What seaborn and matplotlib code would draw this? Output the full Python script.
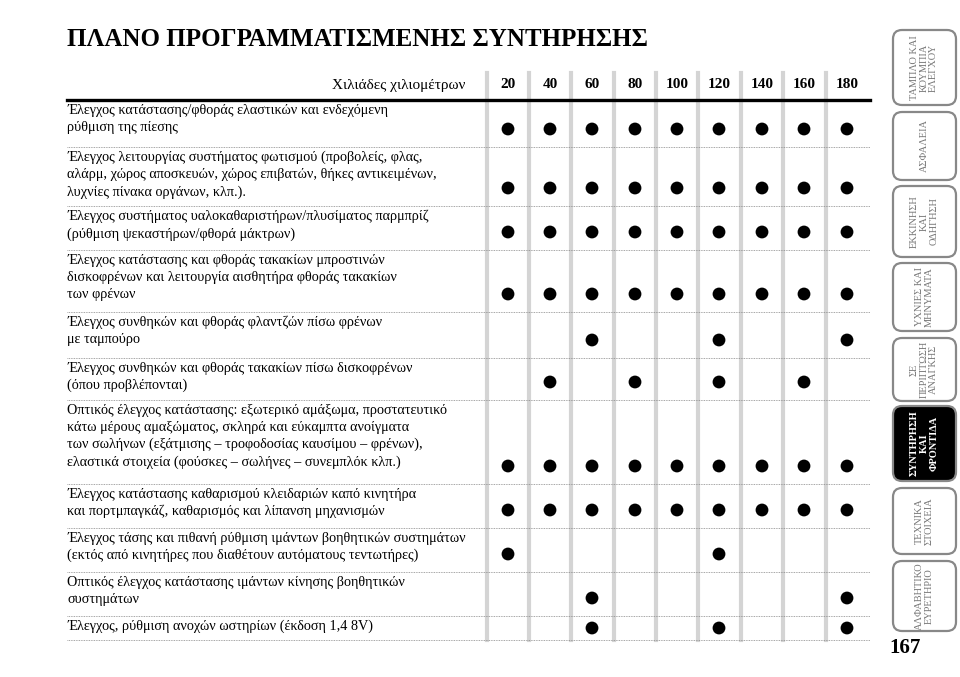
import matplotlib
matplotlib.use("Agg")
import matplotlib.pyplot as plt
from matplotlib.patches import FancyBboxPatch
import seaborn as sns
import pandas as pd

title = "ΠΛΑΝΟ ΠΡΟΓΡΑΜΜΑΤΙΣΜΕΝΗΣ ΣΥΝΤΗΡΗΣΗΣ"
header_label = "Χιλιάδες χιλιομέτρων"
km = ["20", "40", "60", "80", "100", "120", "140", "160", "180"]
tasks = [
    "Έλεγχος κατάστασης/φθοράς ελαστικών και ενδεχόμενη\nρύθμιση της πίεσης",
    "Έλεγχος λειτουργίας συστήματος φωτισμού (προβολείς, φλας,\nαλάρμ, χώρος αποσκευών, χώρος επιβατών, θήκες αντικειμένων,\nλυχνίες πίνακα οργάνων, κλπ.).",
    "Έλεγχος συστήματος υαλοκαθαριστήρων/πλυσίματος παρμπρίζ\n(ρύθμιση ψεκαστήρων/φθορά μάκτρων)",
    "Έλεγχος κατάστασης και φθοράς τακακίων μπροστινών\nδισκοφρένων και λειτουργία αισθητήρα φθοράς τακακίων\nτων φρένων",
    "Έλεγχος συνθηκών και φθοράς φλαντζών πίσω φρένων\nμε ταμπούρο",
    "Έλεγχος συνθηκών και φθοράς τακακίων πίσω δισκοφρένων\n(όπου προβλέπονται)",
    "Οπτικός έλεγχος κατάστασης: εξωτερικό αμάξωμα, προστατευτικό\nκάτω μέρους αμαξώματος, σκληρά και εύκαμπτα ανοίγματα\nτων σωλήνων (εξάτμισης – τροφοδοσίας καυσίμου – φρένων),\nελαστικά στοιχεία (φούσκες – σωλήνες – συνεμπλόκ κλπ.)",
    "Έλεγχος κατάστασης καθαρισμού κλειδαριών καπό κινητήρα\nκαι πορτμπαγκάζ, καθαρισμός και λίπανση μηχανισμών",
    "Έλεγχος τάσης και πιθανή ρύθμιση ιμάντων βοηθητικών συστημάτων\n(εκτός από κινητήρες που διαθέτουν αυτόματους τεντωτήρες)",
    "Οπτικός έλεγχος κατάστασης ιμάντων κίνησης βοηθητικών\nσυστημάτων",
    "Έλεγχος, ρύθμιση ανοχών ωστηρίων (έκδοση 1,4 8V)",
]
ALL = km
schedule = [ALL, ALL, ALL, ALL,
            ["60", "120", "180"],
            ["40", "80", "120", "160"],
            ALL, ALL,
            ["20", "120"],
            ["60", "180"],
            ["60", "120", "180"]]
tabs = ["ΤΑΜΠΛΟ ΚΑΙ\nΚΟΥΜΠΙΑ\nΕΛΕΓΧΟΥ", "ΑΣΦΑΛΕΙΑ", "ΕΚΚΙΝΗΣΗ\nΚΑΙ\nΟΔΗΓΗΣΗ",
        "ΥΧΝΙΕΣ ΚΑΙ\nΜΗΝΥΜΑΤΑ", "ΣΕ\nΠΕΡΙΠΤΩΣΗ\nΑΝΑΓΚΗΣ", "ΣΥΝΤΗΡΗΣΗ\nΚΑΙ\nΦΡΟΝΤΙΔΑ",
        "ΤΕΧΝΙΚΑ\nΣΤΟΙΧΕΙΑ", "ΑΛΦΑΒΗΤΙΚΟ\nΕΥΡΕΤΗΡΙΟ"]
active_tab = 5
page = "167"

# layout (pixels)
col_x = [508, 550, 592, 635, 677, 719, 762, 804, 847]
row_bottom = [147, 206, 250, 312, 358, 400, 484, 528, 572, 616, 640]
tab_spans = [(30, 105), (112, 180), (186, 257), (263, 331), (338, 401), (406, 481), (488, 554), (561, 631)]

plt.rcParams["font.family"] = "Liberation Serif"
fig = plt.figure(figsize=(9.6, 6.77), dpi=100)
ax = fig.add_axes([0, 0, 1, 1])

ax.text(67, 40, title, fontsize=18, fontweight="bold", va="center", ha="left")
ax.text(465, 85, header_label, fontsize=11, ha="right", va="center")
for k, x in zip(km, col_x):
    ax.text(x, 85, k, fontsize=11, fontweight="bold", ha="center", va="center")
for x in col_x:
    ax.plot([x - 21.5, x - 21.5], [73, 640], color="#d4d4d4", lw=3.0, zorder=0)
ax.plot([67, 870], [100, 100], color="black", lw=2.4)

rows = []
top = 100
for i, (t, b) in enumerate(zip(tasks, row_bottom)):
    ax.text(67, top + 4, t, fontsize=10.3, va="top", ha="left", linespacing=1.38)
    ax.plot([67, 870], [b, b], color="#888888", lw=0.6, ls=(0, (1, 1)))
    for k in schedule[i]:
        rows.append({"x": col_x[km.index(k)], "y": b - 18 if i < 10 else b - 12})
    top = b
df = pd.DataFrame(rows)
sns.scatterplot(data=df, x="x", y="y", ax=ax, color="black", s=85, edgecolor="none", legend=False)
ax.set_xlim(0, 960); ax.set_ylim(677, 0); ax.axis("off")

for i, (name, (y0, y1)) in enumerate(zip(tabs, tab_spans)):
    act = i == active_tab
    p = FancyBboxPatch((893, y0), 63, y1 - y0, boxstyle="round,pad=0,rounding_size=9",
                       fc="black" if act else "white", ec="#888888", lw=1.6)
    ax.add_patch(p)
    ax.text(924, (y0 + y1) / 2, name, rotation=90, fontsize=7.5, ha="center", va="center",
            color="white" if act else "#777777", fontweight="bold" if act else "normal",
            multialignment="center", linespacing=1.1)
ax.text(905, 648, page, fontsize=15, fontweight="bold", ha="center", va="center")
fig.savefig("out.png", dpi=100)
